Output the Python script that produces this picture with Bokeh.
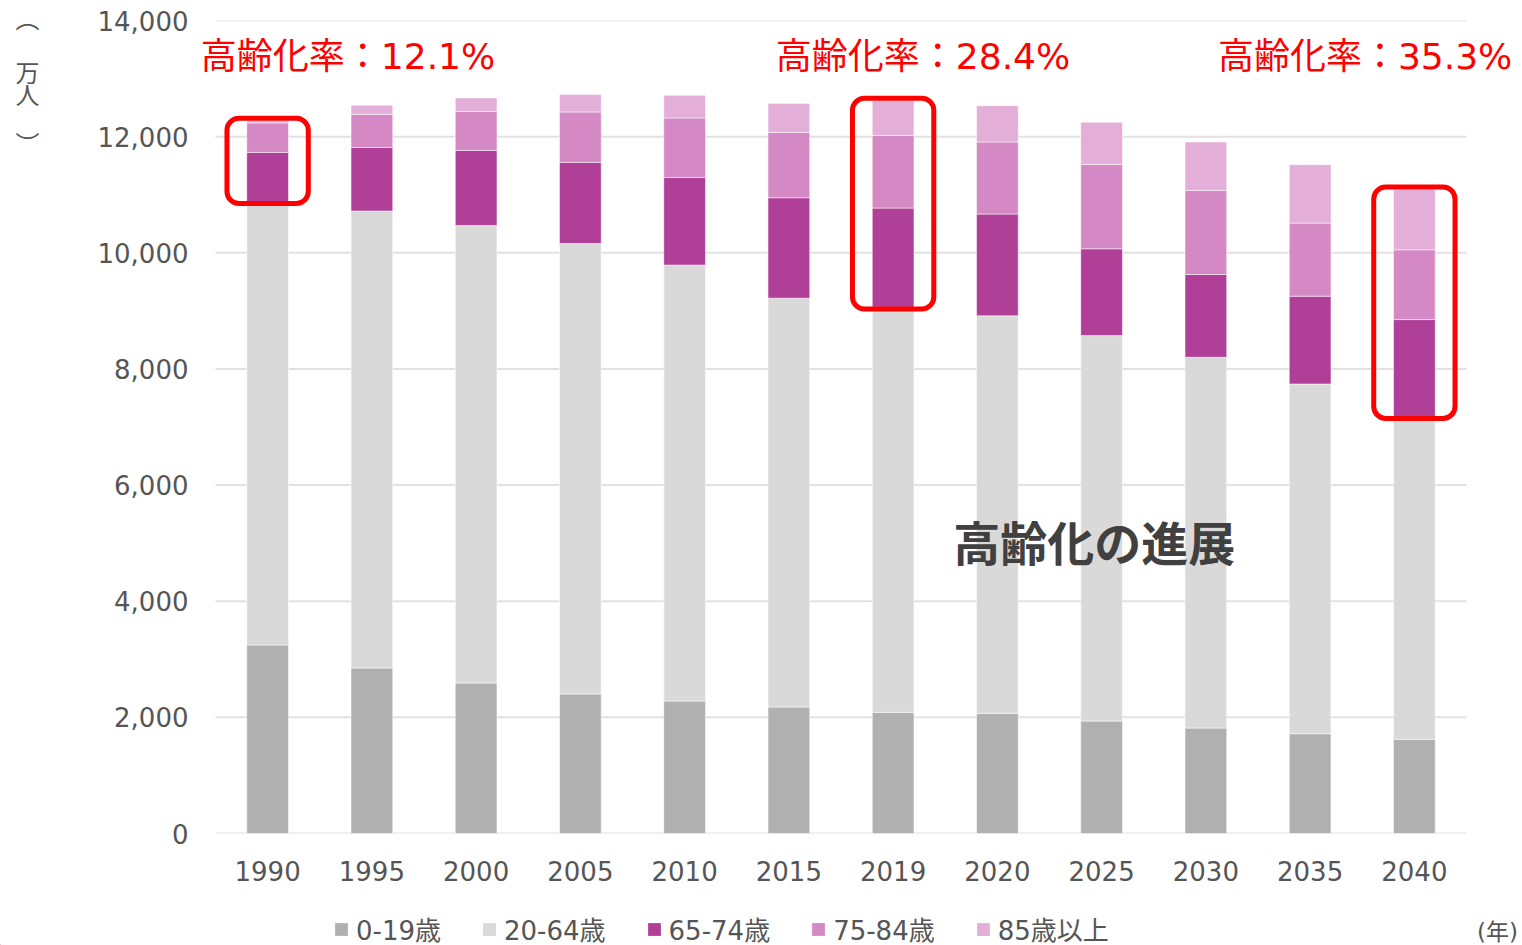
from bokeh.plotting import figure
from bokeh.layouts import column, row
from bokeh.models import (Range1d, FixedTicker, NumeralTickFormatter, Legend, LegendItem,
                          Label, BoxAnnotation, ColumnDataSource)
from bokeh.embed import file_html
from bokeh.resources import INLINE

# ---------------- data ----------------
years = ["1990", "1995", "2000", "2005", "2010", "2015", "2019", "2020", "2025", "2030", "2035", "2040"]
age_0_19 = [3246, 2850, 2591, 2402, 2281, 2178, 2086, 2069, 1936, 1816, 1718, 1621]
age_20_64 = [7633, 7869, 7879, 7758, 7507, 7040, 6974, 6845, 6638, 6385, 6023, 5557]
age_65_74 = [850, 1096, 1294, 1397, 1510, 1730, 1710, 1753, 1495, 1425, 1512, 1672]
age_75_84 = [507, 569, 672, 868, 1024, 1126, 1252, 1241, 1453, 1448, 1258, 1202]
age_85_plus = [40, 156, 231, 299, 390, 495, 599, 626, 725, 834, 1006, 1040]
series_labels = ["0-19歳", "20-64歳", "65-74歳", "75-84歳", "85歳以上"]
y_ticks = [0, 2000, 4000, 6000, 8000, 10000, 12000, 14000]
highlight_years = ["1990", "2019", "2040"]
rate_texts = ["高齢化率：12.1%", "高齢化率：28.4%", "高齢化率：35.3%"]
unit_chars = ["︵", "万", "人", "︶"]
year_unit = "(年)"
note_text = "高齢化の進展"

# ---------------- style / layout ----------------
colors = ["#B0B0B0", "#D9D9D9", "#B03F98", "#D488C4", "#E3AFD8"]
FONT = "DejaVu Sans, Noto Sans CJK JP"
CJK = "Noto Sans CJK JP"
TXT = "#555555"
W, H = 1522, 945
UNIT_W = 60             # strip left of the chart holding the unit label
MAIN_H = 890            # chart height; legend strip below
LEG_H = H - MAIN_H
CAT_LEFT = 215          # left edge of first category slot (page px)
FRAME_LEFT = 195        # drawing frame starts a little further left
TOP = 20
FRAME_BOTTOM = 833
PX_PER_CAT = 104.25
UNIT_Y = [-3, 56, 80, 134]   # anchor rows of the vertical unit label (page px)


def blank_fig(w, h):
    f = figure(width=w, height=h, x_range=Range1d(0, w), y_range=Range1d(0, h), title=None,
               output_backend="svg", toolbar_location=None, min_border=0,
               min_border_left=0, min_border_right=0, min_border_top=0, min_border_bottom=0,
               x_axis_location=None, y_axis_location=None)
    f.grid.visible = False
    f.outline_line_color = None
    f.background_fill_color = "white"
    f.border_fill_color = "white"
    return f


n = len(years)
x_idx = list(range(n))
source = ColumnDataSource(dict(x=x_idx, s0=age_0_19, s1=age_20_64, s2=age_65_74,
                               s3=age_75_84, s4=age_85_plus))

main_w = W - UNIT_W
x_start = -0.5 - (CAT_LEFT - FRAME_LEFT) / PX_PER_CAT
x_end = x_start + (W - FRAME_LEFT) / PX_PER_CAT
p = figure(width=main_w, height=MAIN_H, x_range=Range1d(x_start, x_end),
           y_range=Range1d(0, 14000), output_backend="svg", toolbar_location=None,
           min_border_left=FRAME_LEFT - UNIT_W, min_border_right=0, min_border_top=TOP,
           min_border_bottom=MAIN_H - FRAME_BOTTOM)
p.outline_line_color = None
p.background_fill_color = "white"
p.border_fill_color = "white"

# horizontal gridlines limited to the category area
grid = p.segment(x0=[-0.5] * len(y_ticks), x1=[n - 0.5] * len(y_ticks), y0=y_ticks, y1=y_ticks,
                 line_color="#E2E2E2", line_width=2)
grid.level = "underlay"

rs = p.vbar_stack(["s0", "s1", "s2", "s3", "s4"], x="x", width=0.4, fill_color=colors,
                  line_color="white", line_width=1, line_alpha=0.5, source=source)

# axes
p.xaxis.ticker = FixedTicker(ticks=x_idx)
p.xaxis.major_label_overrides = {i: y for i, y in enumerate(years)}
p.yaxis.ticker = FixedTicker(ticks=y_ticks)
p.yaxis.formatter = NumeralTickFormatter(format="0,0")
for ax in (p.xaxis, p.yaxis):
    ax.axis_line_color = None
    ax.major_tick_line_color = None
    ax.minor_tick_line_color = None
    ax.major_tick_out = 0
    ax.major_tick_in = 0
    ax.major_label_text_font = FONT
    ax.major_label_text_font_size = "26px"
    ax.major_label_text_color = TXT
p.yaxis.major_label_standoff = 27 - (CAT_LEFT - FRAME_LEFT)
p.xaxis.major_label_standoff = 27
p.xgrid.visible = False
p.ygrid.visible = False

# highlight boxes and rate labels
base65 = [a + b for a, b in zip(age_0_19, age_20_64)]
totals = [a + b + c + d + e for a, b, c, d, e in zip(age_0_19, age_20_64, age_65_74, age_75_84, age_85_plus)]
rate_dx = [0.771, 0.287, -0.473]
for yr, txt, dx in zip(highlight_years, rate_texts, rate_dx):
    i = years.index(yr)
    p.add_layout(BoxAnnotation(left=i - 0.39, right=i + 0.39, bottom=base65[i] - 30,
                               top=totals[i] + 40, fill_alpha=0, line_color="#FF0000",
                               line_alpha=1.0, line_width=5, border_radius=12))
    p.add_layout(Label(x=i + dx, y=13380, text=txt, text_font=FONT, text_font_size="36px",
                       text_color="#FF0000", text_align="center", text_baseline="middle"))

p.add_layout(Label(x=7.93, y=5052, text=note_text, text_font=CJK,
                   text_font_style="bold", text_font_size="47px", text_color="#404040",
                   text_align="center", text_baseline="middle"))

# ---- unit label strip (left) ----
unit_fig = blank_fig(UNIT_W, MAIN_H)
for ch, ypx in zip(unit_chars, UNIT_Y):
    unit_fig.add_layout(Label(x=27, y=MAIN_H - ypx, text=ch, text_font=CJK,
                              text_font_size="24px", text_color=TXT, text_align="center",
                              text_baseline="middle"))

# ---- legend strip (bottom) ----
leg_fig = blank_fig(W, LEG_H)
carriers = [leg_fig.vbar(x=[-100], top=[1], bottom=[0], width=1, fill_color=c, line_color=None)
            for c in colors]
legend = Legend(items=[LegendItem(label=l, renderers=[r]) for l, r in zip(series_labels, carriers)],
                orientation="horizontal", location=(333, -2), glyph_width=16, glyph_height=16,
                label_standoff=7, spacing=40, padding=0, margin=0,
                label_text_font=FONT, label_text_font_size="26px", label_text_color=TXT,
                border_line_alpha=0, background_fill_alpha=0)
leg_fig.add_layout(legend)
leg_fig.add_layout(Label(x=1497, y=LEG_H - (931 - MAIN_H), text=year_unit, text_font=FONT,
                         text_font_size="23px", text_color=TXT, text_align="center",
                         text_baseline="middle"))

layout = column(row(unit_fig, p, spacing=0), leg_fig, spacing=0)
open("out.html", "w").write(file_html(layout, INLINE))
